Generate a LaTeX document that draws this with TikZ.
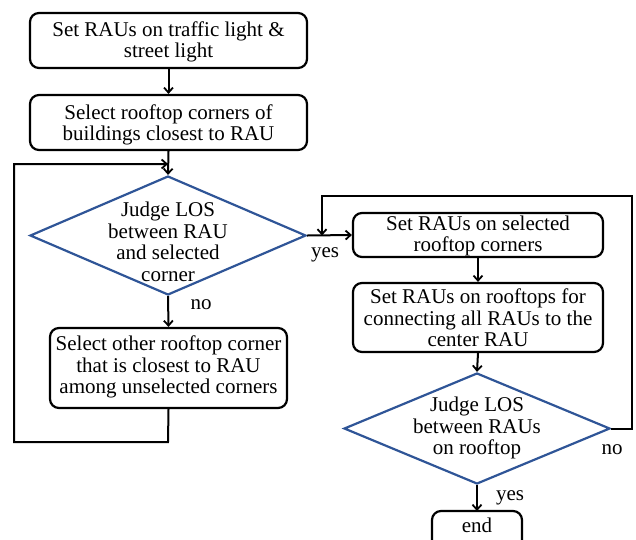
\documentclass[tikz,border=0pt]{standalone}
\usepackage{fontspec}
\setmainfont{Liberation Serif}
\newfontfamily\timesfont{Liberation Serif}
\usetikzlibrary{shapes.geometric,arrows.meta}
\definecolor{diablue}{HTML}{2F5597}
\begin{document}
\begin{tikzpicture}[x=1pt,y=-1pt,
  box/.style={draw=black,line width=2.2pt,rounded corners=9pt,inner sep=0pt},
  dia/.style={draw=diablue,line width=2.2pt,diamond,inner sep=0pt},
  txt/.style={align=center,font=\timesfont\fontsize{21}{21.5}\selectfont,inner sep=0pt},
  lbl/.style={font=\timesfont\fontsize{21}{21.5}\selectfont,inner sep=0pt},
  arr/.style={line width=2pt,-{Straight Barb[length=5pt,width=9pt,line width=1.8pt]}}]
\useasboundingbox (0,0) rectangle (636,539);
% boxes
\node[box,minimum width=277pt,minimum height=55pt] (b1) at (168.5,40.5) {};
\node[txt] at (168.5,42) {Set RAUs on traffic light \&\\street light};
\node[box,minimum width=277pt,minimum height=55pt] (b2) at (168.5,122.5) {};
\node[txt] at (168.5,125) {Select rooftop corners of\\buildings closest to RAU};
\node[dia,minimum width=276pt,minimum height=119pt] (d1) at (168,235.5) {};
\node[txt] at (168,242) {Judge LOS\\between RAU\\and selected\\corner};
\node[box,minimum width=237pt,minimum height=80pt] (b4) at (168.5,368) {};
\node[txt] at (168.5,367) {Select other rooftop corner\\that is closest to RAU\\among unselected corners};
\node[box,minimum width=250pt,minimum height=44pt] (b3) at (478,235) {};
\node[txt] at (478,236) {Set RAUs on selected\\rooftop corners};
\node[box,minimum width=250pt,minimum height=69pt] (b5) at (478,317.5) {};
\node[txt] at (478,318) {Set RAUs on rooftops for\\connecting all RAUs to the\\center RAU};
\node[dia,minimum width=266pt,minimum height=111pt] (d2) at (477,428.5) {};
\node[txt] at (477,428) {Judge LOS\\between RAUs\\on rooftop};
\draw[line width=2.2pt,rounded corners=9pt] (432,560) -- (432,511) -- (522,511) -- (522,560);
\node[txt] (e) at (477,525) {end};
\coordinate (eTop) at (477,511);
% connectors
\draw[arr] (b1.south) -- (b2.north);
\draw[arr] (b2.south) -- (d1.north);
\draw[arr] (d1.south) -- (b4.north);
\coordinate (m1) at (168,164);
\draw[arr] (b4.south) -- (168,442) -| (14,164) -- (m1);
\draw[arr] (d1.east) -- (b3.west);
\draw[arr] (b3.south) -- (b5.north);
\draw[arr] (b5.south) -- (d2.north);
\draw[arr] (d2.south) -- (eTop);
\coordinate (m2) at (322,235.5);
\draw[arr] (d2.east) -- (632,428.5) |- (322,196) -- (m2);
% labels
\node[lbl] at (201,304.5) {no};
\node[lbl] at (325,254.5) {yes};
\node[lbl] at (612,450) {no};
\node[lbl] at (510,497.5) {yes};
\end{tikzpicture}
\end{document}
